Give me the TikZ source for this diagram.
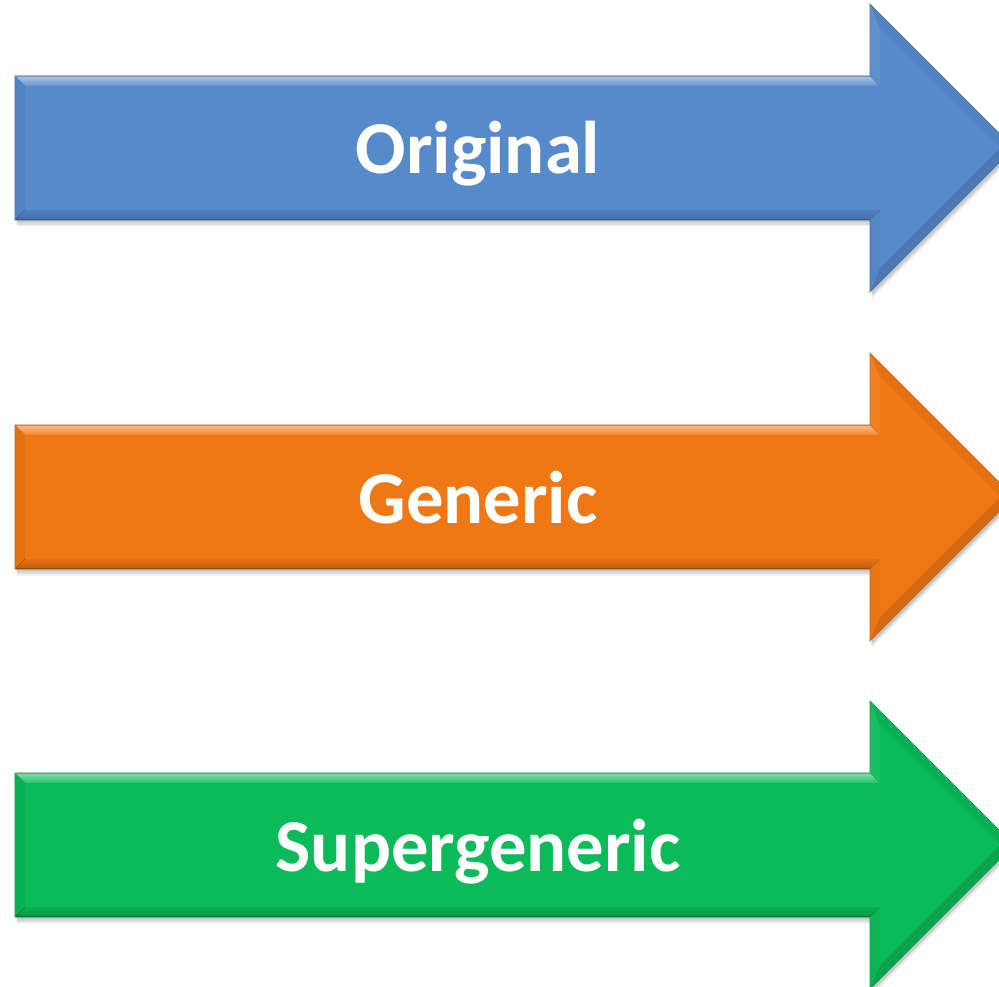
\documentclass[tikz,border=0pt]{standalone}
\usepackage{fontspec}
\newfontfamily\calib{Carlito}
\definecolor{cblue}{HTML}{568ACB}
\definecolor{corange}{HTML}{F07814}
\definecolor{cgreen}{HTML}{0BBA58}
\tikzset{
  lbl/.style={text=white,font=\calib\bfseries\fontsize{56}{60}\selectfont,inner sep=0pt},
  shadowfill/.style={fill=black,fill opacity=0.06,draw=none},
}
\newcommand\bevarrow[4]{%
  % shadow
  \foreach \s in {2,3.5,5,6.5}{
    \fill[shadowfill,shift={(1.5,\s)}] (15,{#2-72}) -- (870,{#2-72}) -- (870,{#2-144}) -- (1014,#2) -- (870,{#2+144}) -- (870,{#2+72}) -- (15,{#2+72}) -- cycle;
  }
  % base
  \fill[#3,draw=#3!78!black,line width=0.5] (15,{#2-72}) -- (870,{#2-72}) -- (870,{#2-144}) -- (1014,#2) -- (870,{#2+144}) -- (870,{#2+72}) -- (15,{#2+72}) -- cycle;
  % facets
  \fill[top color=#3!50!white,bottom color=#3!90!white] (15.3,{#2-71.7}) -- (870,{#2-71.7}) -- (880,{#2-62}) -- (25,{#2-62}) -- cycle;
  \fill[#3!95!black] (15.3,{#2-71.7}) -- (25,{#2-62}) -- (25,{#2+62}) -- (15.3,{#2+71.7}) -- cycle;
  \fill[top color=#3!95!black,bottom color=#3!80!black] (15.3,{#2+71.7}) -- (25,{#2+62}) -- (880,{#2+62}) -- (870,{#2+71.7}) -- cycle;
  \fill[#3!94!white] (870.3,{#2-72}) -- (870.3,{#2-143}) -- (880,{#2-119.86}) -- (880,{#2-62}) -- cycle;
  \fill[#3!95!black] (870.3,{#2-143}) -- (1013,#2) -- (999.86,#2) -- (880,{#2-119.86}) -- cycle;
  \fill[#3!88!black] (870.3,{#2+143}) -- (1013,#2) -- (999.86,#2) -- (880,{#2+119.86}) -- cycle;
  \fill[#3!97!black] (870.3,{#2+72}) -- (880,{#2+62}) -- (880,{#2+119.86}) -- (870.3,{#2+143}) -- cycle;
  % inner face
  \fill[#3] (25,{#2-62}) -- (880,{#2-62}) -- (880,{#2-119.86}) -- (999.86,#2) -- (880,{#2+119.86}) -- (880,{#2+62}) -- (25,{#2+62}) -- cycle;
  \node[lbl,anchor=base] (#1) at (478,{#2+26}) {#4};
}
\begin{document}
\begin{tikzpicture}[x=0.75pt,y=-0.75pt]
  \useasboundingbox (0,0) rectangle (999,987);
  \clip (0,0) rectangle (999,987);
  \fill[white] (0,0) rectangle (999,987);
  \bevarrow{original}{148}{cblue}{Original}
  \bevarrow{generic}{497}{corange}{Generic}
  \bevarrow{supergeneric}{845}{cgreen}{Supergeneric}
\end{tikzpicture}
\end{document}
